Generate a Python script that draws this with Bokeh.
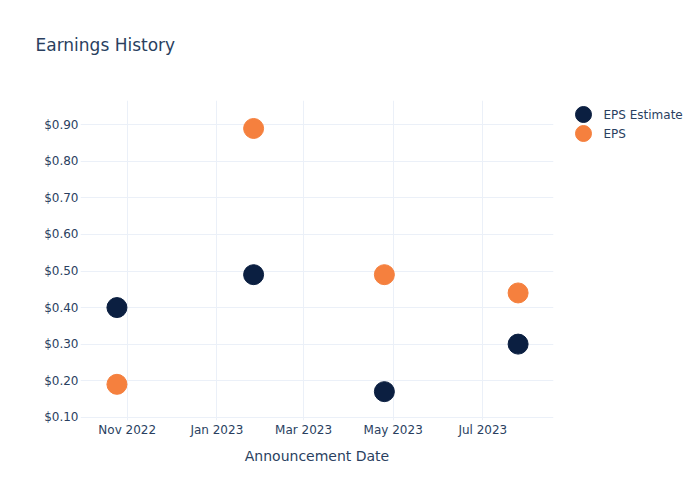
from datetime import datetime
from bokeh.plotting import figure
from bokeh.layouts import row
from bokeh.core.properties import value
from bokeh.models import (ColumnDataSource, Range1d, FixedTicker, NumeralTickFormatter,
                          MonthsTicker, DatetimeTickFormatter, Label)
from bokeh.embed import file_html
from bokeh.resources import INLINE

dates = [datetime(2022, 10, 25), datetime(2023, 1, 26), datetime(2023, 4, 25), datetime(2023, 7, 25)]
eps_estimate = [0.40, 0.49, 0.17, 0.30]
eps_actual = [0.19, 0.89, 0.49, 0.44]
y_ticks = [0.1, 0.2, 0.3, 0.4, 0.5, 0.6, 0.7, 0.8, 0.9]
series_names = ["EPS Estimate", "EPS"]

FONT = "DejaVu Sans"
TXT = "#2a3f5f"
GRID = "#EBF0F8"
NAVY = "#0B1F41"
ORANGE = "#F5803E"
COLORS = [NAVY, ORANGE]

p = figure(width=560, height=500, output_backend="svg", toolbar_location=None,
           x_axis_type="datetime",
           x_range=Range1d(datetime(2022, 9, 30, 5), datetime(2023, 8, 18, 2)),
           y_range=Range1d(0.091, 0.9665),
           min_border_left=80, min_border_right=7, min_border_top=100, min_border_bottom=80)
p.outline_line_color = None
p.background_fill_color = "white"
p.border_fill_color = "white"

src_est = ColumnDataSource(dict(x=dates, y=eps_estimate))
src_eps = ColumnDataSource(dict(x=dates, y=eps_actual))
p.scatter("x", "y", source=src_est, size=20, color=NAVY, line_color=NAVY)
p.scatter("x", "y", source=src_eps, size=20, color=ORANGE, line_color=ORANGE)

# axes
for ax in (p.xaxis[0], p.yaxis[0]):
    ax.axis_line_color = None
    ax.major_tick_line_color = None
    ax.minor_tick_line_color = None
    ax.major_tick_out = 0
    ax.major_tick_in = 0
    ax.minor_tick_out = 0
    ax.major_label_text_font = FONT
    ax.major_label_text_font_size = "12px"
    ax.major_label_text_color = TXT

p.yaxis[0].ticker = FixedTicker(ticks=y_ticks)
p.yaxis[0].formatter = NumeralTickFormatter(format="$0.00")
p.yaxis[0].major_label_standoff = 2

p.xaxis[0].ticker = MonthsTicker(months=[0, 2, 4, 6, 8, 10])
p.xaxis[0].formatter = DatetimeTickFormatter(months="%b %Y", days="%b %Y")
p.xaxis[0].major_label_standoff = 2
p.xaxis[0].axis_label = "Announcement Date"
p.xaxis[0].axis_label_text_font = FONT
p.xaxis[0].axis_label_text_font_size = "14px"
p.xaxis[0].axis_label_text_font_style = "normal"
p.xaxis[0].axis_label_text_color = TXT
p.xaxis[0].axis_label_standoff = 8

p.xgrid.grid_line_color = GRID
p.ygrid.grid_line_color = GRID
p.xgrid.grid_line_width = 1
p.ygrid.grid_line_width = 1
p.ygrid.ticker = FixedTicker(ticks=y_ticks)

# title as a label in the top panel
p.add_layout(Label(x=-45, y=56, x_units="screen", y_units="screen", text="Earnings History",
                   text_font=FONT, text_font_size="17px", text_color=TXT,
                   text_baseline="middle", text_align="left"), "above")

# legend panel: a small frame-only figure to the right of the plot
# (its frame is aligned with the main frame, which spans page rows 100..420)
lg = figure(width=140, height=500, output_backend="svg", toolbar_location=None,
            x_range=Range1d(0, 140), y_range=Range1d(420, 100),
            x_axis_location=None, y_axis_location=None,
            min_border_left=0, min_border_right=0, min_border_top=0, min_border_bottom=0)
lg.outline_line_color = None
lg.grid.visible = False
lg.background_fill_color = "white"
lg.border_fill_color = "white"

row_y = [114 + 19 * i for i in range(len(series_names))]
leg_src = ColumnDataSource(dict(mx=[23] * len(series_names), tx=[43] * len(series_names),
                                y=row_y, name=series_names, color=COLORS))
lg.scatter("mx", "y", source=leg_src, size=16, color="color", line_color="color")
lg.text("tx", "y", text="name", source=leg_src, text_font=value(FONT), text_font_size="12px",
        text_color=TXT, text_baseline="middle", text_align="left")

layout = row(p, lg, spacing=0)
open("out.html", "w").write(file_html(layout, INLINE))
